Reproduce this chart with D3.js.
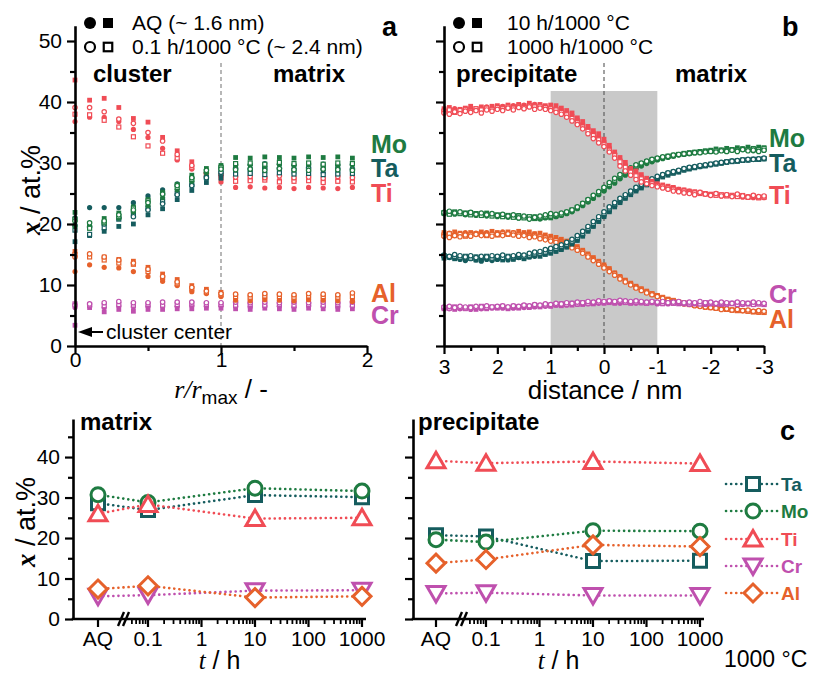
<!DOCTYPE html>
<html><head><meta charset="utf-8">
<script src="https://cdn.jsdelivr.net/npm/d3@7"></script>
<style>
body{margin:0;background:#fff}
svg text{font-family:"Liberation Sans",Arial,sans-serif}
</style></head><body>
<svg id="c" width="814" height="673"></svg>
<script>
// ---------------- DATA ----------------
const elements = ["Ta","Mo","Ti","Cr","Al"];
const colorTa = "#155c5e", colorMo = "#1e7b41", colorTi = "#f04c55", colorCr = "#bf50ae", colorAl = "#e6612b";

// panel a: r/rmax positions
const rA = [0,0.1,0.2,0.3,0.4,0.5,0.6,0.7,0.8,0.9,1.0,1.1,1.2,1.3,1.4,1.5,1.6,1.7,1.8,1.9];
// AQ filled squares
const tiAqS = [43.6,40.3,40.6,39.1,37.3,36.7,34.2,32.0,30.2,28.5,28.0,27.4,27.2,27.5,27.1,27.3,27.4,27.0,27.2,27.3];
const moAqS = [21.9,20.0,20.9,21.8,22.8,24.0,25.2,26.5,28.0,29.1,29.6,30.9,30.8,31.0,30.9,30.8,31.0,30.9,31.0,30.8];
const taAqS = [17.1,18.1,18.8,19.6,20.0,21.5,22.5,24.0,25.5,26.8,27.5,28.6,28.5,28.7,28.6,28.5,28.7,28.6,28.5,28.6];
const alAqS = [15.5,14.8,14.6,14.2,13.9,12.9,11.8,10.9,9.9,9.3,8.8,7.9,7.8,8.0,7.8,7.9,7.7,7.9,7.8,7.7];
const crAqS = [3.4,6.3,5.6,6.0,5.7,6.0,6.0,6.1,6.1,6.2,6.2,6.1,6.0,6.2,6.1,6.0,6.2,6.1,6.0,6.1];
// AQ filled circles
const tiAqC = [36.8,37.5,37.5,36.8,35.5,34.2,32.4,30.5,29.0,27.7,26.9,26.0,26.1,25.9,26.0,25.8,26.0,25.9,25.8,26.0];
const moAqC = [19.6,19.7,20.3,21.0,22.0,23.0,24.3,25.6,27.0,28.4,29.4,29.6,29.7,29.5,29.8,29.6,29.7,29.5,29.6,29.7];
const taAqC = [21.0,22.7,22.7,22.7,23.5,24.6,25.6,26.6,27.5,28.5,29.0,29.8,29.7,29.9,29.8,29.7,29.9,29.8,29.7,29.8];
const alAqC = [12.2,13.3,12.9,12.8,12.2,11.4,10.6,9.9,8.9,8.6,8.1,7.5,7.4,7.6,7.5,7.4,7.6,7.5,7.4,7.3];
const crAqC = [6.3,6.5,6.3,6.6,6.4,6.5,6.6,6.5,6.6,6.5,6.6,6.5,6.4,6.6,6.5,6.4,6.6,6.5,6.4,6.5];
// 0.1 h open circles
const ti01C = [39.1,39.1,38.4,37.2,36.5,35.0,33.6,31.4,29.6,28.3,28.1,27.7,27.8,27.6,27.9,27.6,27.7,27.5,27.8,27.6];
const mo01C = [20.5,20.2,20.5,21.5,22.3,23.5,24.9,26.3,27.6,28.8,29.0,28.9,29.0,28.8,29.1,28.9,28.8,29.0,28.9,28.8];
const ta01C = [19.8,19.5,20.0,21.0,21.2,22.3,23.3,24.8,26.3,27.6,28.5,29.1,29.0,29.2,29.1,29.0,29.2,29.0,29.1,29.0];
const al01C = [14.6,15.1,14.6,14.1,13.6,12.6,11.4,10.5,9.6,9.0,8.6,8.5,8.4,8.6,8.5,8.4,8.6,8.5,8.4,8.7];
const cr01C = [6.7,6.9,7.1,7.3,7.1,7.1,7.2,7.2,7.2,7.1,7.1,7.2,7.1,7.2,7.1,7.2,7.1,7.2,7.1,7.2];
// 0.1 h open squares
const ti01S = [38.0,37.9,37.0,35.9,34.3,32.8,31.6,30.8,29.3,28.1,27.6,27.0,27.1,27.2,26.9,27.0,27.1,26.8,27.0,26.9];
const mo01S = [20.8,19.3,20.2,21.2,22.6,23.8,25.0,26.0,27.3,28.6,29.3,29.9,30.0,29.8,30.1,29.9,30.0,29.8,30.0,29.9];
const ta01S = [19.0,18.3,19.4,20.8,21.7,22.6,23.7,25.0,26.4,27.6,28.3,28.2,28.3,28.1,28.4,28.2,28.3,28.1,28.2,28.3];
const al01S = [15.0,14.6,14.1,13.6,13.4,12.2,11.2,10.2,9.4,8.8,8.4,8.1,8.0,8.2,8.1,8.0,8.2,8.1,8.0,8.1];
const cr01S = [6.9,6.7,6.6,6.8,6.7,6.8,6.7,6.8,6.9,6.8,6.8,6.7,6.8,6.7,6.8,6.7,6.8,6.7,6.8,6.7];

// panel b: distance positions (nm)
const distB = [3,2.9,2.8,2.7,2.6,2.5,2.4,2.3,2.2,2.1,2,1.9,1.8,1.7,1.6,1.5,1.4,1.3,1.2,1.1,1,0.9,0.8,0.7,0.6,0.5,0.4,0.3,0.2,0.1,0,-0.1,-0.2,-0.3,-0.4,-0.5,-0.6,-0.7,-0.8,-0.9,-1,-1.1,-1.2,-1.3,-1.4,-1.5,-1.6,-1.7,-1.8,-1.9,-2,-2.1,-2.2,-2.3,-2.4,-2.5,-2.6,-2.7,-2.8,-2.9,-3];
// 10 h filled squares
const ti10S = [38.9,39.1,38.6,38.8,39.0,39.3,38.9,39.2,39.0,39.3, 39.4,39.2,39.5,39.3,39.6,39.4,39.8,39.5,39.6,39.4, 39.5,39.4,39.0,38.6,38.2,37.4,36.8,36.0,35.3,34.8, 33.9,32.9,31.8,30.9,30.1,29.1,28.7,28.1,27.5,27.0, 26.6,26.4,26.2,26.0,25.7,25.6,25.4,25.3,25.2,25.0, 24.9,25.0,24.7,24.8,24.6,24.5,24.7,24.4,24.6,24.3,24.4];
const mo10S = [21.9,21.7,22.0,21.8,21.6,21.9,21.7,21.5,21.8,21.6, 21.4,21.5,21.3,21.2,21.4,21.1,21.0,21.2,20.9,21.1, 21.0,21.3,21.5,21.8,22.2,22.7,23.2,23.7,24.4,25.0, 25.6,26.3,27.0,27.6,28.3,28.8,29.3,29.7,30.1,30.4, 30.7,30.9,31.1,31.3,31.4,31.6,31.7,31.8,31.9,32.0, 32.1,32.3,32.1,32.4,32.2,32.5,32.3,32.6,32.4,32.6,32.5];
const ta10S = [14.4,14.6,14.3,14.5,14.2,14.4,14.1,14.3,14.5,14.2, 14.3,14.1,14.4,14.2,14.5,14.3,14.6,14.8,14.7,15.0, 15.2,15.5,15.8,16.2,16.7,17.3,18.0,18.8,19.6,20.4, 21.2,22.0,22.8,23.5,24.2,24.8,25.4,25.9,26.4,26.9, 27.3,27.7,28.0,28.3,28.5,28.8,29.0,29.2,29.4,29.5, 29.7,29.8,30.0,30.1,30.2,30.3,30.4,30.5,30.6,30.6,30.7];
const al10S = [18.6,18.4,18.7,18.5,18.3,18.6,18.4,18.7,18.5,18.8, 18.6,18.4,18.7,18.5,18.8,18.6,18.7,18.4,18.5,18.2, 18.0,17.8,17.5,17.2,16.8,16.3,15.7,15.1,14.5,13.9, 13.3,12.7,12.0,11.4,10.8,10.3,9.8,9.4,9.0,8.6, 8.3,8.0,7.7,7.5,7.2,7.1,6.9,6.7,6.6,6.4, 6.3,6.2,6.1,6.0,5.9,5.8,5.8,5.7,5.6,5.5,5.5];
const cr10S = [6.1,6.3,6.0,6.2,6.1,6.3,6.0,6.2,6.1,6.3, 6.2,6.4,6.1,6.3,6.2,6.4,6.3,6.5,6.4,6.6, 6.5,6.7,6.6,6.8,6.7,6.9,6.8,7.0,6.9,7.1, 7.0,7.1,7.0,7.2,7.1,7.0,7.2,7.1,7.0,7.1, 7.0,6.9,7.1,7.0,6.9,7.0,6.8,7.0,6.9,6.8, 7.0,6.9,6.8,7.0,6.9,6.8,7.0,6.9,6.8,6.9,6.8];
// 10 h filled circles
const ti10C = [38.6,38.8,38.9,38.5,38.9,39.0,38.7,39.0,39.2,38.9, 39.1,39.3,39.0,39.4,39.2,39.5,39.3,39.6,39.3,39.2, 39.1,38.9,38.7,38.3,37.8,37.1,36.4,35.7,35.0,34.3, 33.5,32.5,31.6,30.5,29.7,28.9,28.3,27.8,27.3,26.9, 26.5,26.3,26.0,25.9,25.7,25.5,25.4,25.2,25.1,25.0, 24.8,24.9,24.6,24.7,24.5,24.6,24.4,24.5,24.3,24.5,24.3];
const mo10C = [21.7,21.9,21.6,21.8,21.5,21.7,21.4,21.6,21.3,21.5, 21.2,21.4,21.1,21.3,21.0,21.2,20.9,21.1,20.8,21.0, 21.1,21.2,21.4,21.7,22.0,22.5,23.0,23.6,24.2,24.8, 25.4,26.1,26.7,27.4,28.0,28.6,29.1,29.5,29.9,30.2, 30.5,30.7,30.9,31.1,31.3,31.4,31.5,31.7,31.8,31.9, 32.0,31.9,32.1,32.0,32.2,32.1,32.3,32.2,32.0,32.3,32.1];
const ta10C = [14.7,14.5,14.4,14.2,14.0,14.3,14.1,13.9,14.2,14.0, 14.2,14.4,14.1,14.3,14.5,14.4,14.6,14.7,14.9,15.1, 15.3,15.6,15.9,16.3,16.8,17.4,18.1,18.9,19.7,20.5, 21.3,22.1,22.9,23.6,24.3,24.9,25.5,26.0,26.5,27.0, 27.4,27.8,28.1,28.4,28.6,28.9,29.1,29.3,29.4,29.6, 29.7,29.9,30.0,30.2,30.3,30.4,30.5,30.5,30.6,30.7,30.7];
const al10C = [18.3,18.5,18.2,18.4,18.6,18.3,18.5,18.2,18.6,18.4, 18.5,18.7,18.4,18.6,18.3,18.5,18.2,18.4,18.1,17.9, 17.7,17.5,17.2,16.9,16.5,16.0,15.5,14.9,14.3,13.7, 13.1,12.5,11.9,11.3,10.7,10.2,9.7,9.3,8.9,8.5, 8.2,7.9,7.6,7.4,7.2,7.0,6.8,6.7,6.5,6.4, 6.3,6.2,6.1,6.0,5.9,5.9,5.8,5.7,5.7,5.6,5.6];
const cr10C = [6.2,6.1,6.3,6.1,6.2,6.0,6.2,6.1,6.3,6.2, 6.3,6.2,6.4,6.2,6.4,6.3,6.5,6.4,6.6,6.5, 6.6,6.7,6.8,6.7,6.9,6.8,7.0,6.9,7.1,7.0, 7.1,7.2,7.1,7.0,7.2,7.1,7.0,7.1,7.0,7.1, 6.9,7.0,6.9,7.1,7.0,6.9,7.0,6.9,7.0,6.8, 6.9,7.0,6.9,6.8,7.0,6.9,6.8,6.9,6.8,7.0,6.9];
// 1000 h open circles
const ti1000C = [38.2,38.0,38.4,38.1,38.5,38.3,38.6,38.2,38.7,38.5, 38.8,38.6,39.0,38.7,39.1,38.9,39.2,38.8,39.0,38.8, 38.6,38.3,38.0,37.5,36.9,36.3,35.6,34.8,34.0,33.3, 32.7,31.8,30.8,29.5,28.7,28.0,27.3,26.9,26.6,26.3, 26.1,25.9,25.7,25.4,25.3,25.1,25.0,24.8,25.2,24.9, 24.7,25.0,24.6,24.8,24.5,24.9,24.6,24.4,24.7,24.5,24.6];
const mo1000C = [21.9,22.1,21.8,22.0,21.7,21.9,21.6,21.8,21.5,21.7, 21.4,21.6,21.3,21.5,21.0,21.3,20.8,21.1,21.3,21.5, 21.7,21.6,21.8,22.0,22.3,22.8,23.4,24.0,24.7,25.3, 26.0,26.8,27.5,28.1,28.7,29.2,29.7,30.0,30.3,30.6, 30.8,31.0,31.1,31.3,31.4,31.5,31.6,31.7,31.7,31.8, 31.9,31.8,32.0,31.9,32.1,31.9,32.2,32.0,32.1,31.9,32.1];
const ta1000C = [14.9,14.7,15.0,14.8,14.6,14.8,14.5,14.7,14.6,14.8, 14.7,14.9,14.6,14.8,15.0,14.9,15.2,15.4,15.5,15.8, 16.0,16.3,16.6,17.0,17.5,18.1,18.8,19.6,20.4,21.2, 22.0,22.8,23.5,24.2,24.8,25.4,26.0,26.5,27.0,27.4, 27.8,28.1,28.4,28.6,28.8,29.1,29.3,29.4,29.6,29.7, 29.8,30.0,30.1,30.2,30.3,30.4,30.5,30.6,30.6,30.7,30.8];
const al1000C = [18.0,17.8,18.1,17.9,18.2,18.0,18.3,18.1,18.2,18.0, 18.3,18.1,18.4,18.2,18.0,18.1,17.8,17.9,17.6,17.4, 17.2,17.0,16.8,16.5,16.1,15.7,15.2,14.6,14.0,13.4, 12.8,12.2,11.6,11.0,10.5,10.0,9.5,9.1,8.7,8.4, 8.1,7.8,7.5,7.3,7.1,6.9,6.8,6.6,6.5,6.4, 6.3,6.2,6.0,6.1,5.9,6.0,5.8,5.9,5.7,5.8,5.7];
const cr1000C = [6.4,6.5,6.3,6.5,6.4,6.3,6.5,6.4,6.6,6.4, 6.5,6.6,6.4,6.6,6.5,6.7,6.6,6.8,6.7,6.9, 6.8,7.0,6.9,7.1,7.0,7.2,7.1,7.3,7.2,7.4, 7.3,7.4,7.3,7.5,7.4,7.3,7.4,7.3,7.2,7.3, 7.2,7.3,7.1,7.2,7.3,7.1,7.2,7.1,7.3,7.1, 7.2,7.0,7.2,7.1,7.0,7.2,7.1,7.0,7.2,7.1,7.0];
// 1000 h open squares
const ti1000S = [38.5,38.7,38.3,38.6,38.8,38.5,38.9,38.7,39.0,38.8, 39.1,38.9,39.2,39.0,39.3,39.1,39.4,39.2,39.3,39.1, 38.9,38.7,38.3,37.9,37.3,36.6,35.9,35.2,34.5,33.8, 33.0,32.1,31.2,30.2,29.3,28.5,27.9,27.4,27.0,26.6, 26.3,26.1,25.9,25.7,25.5,25.4,25.2,25.1,25.0,24.9, 24.8,24.7,24.8,24.6,24.7,24.5,24.6,24.4,24.5,24.3,24.4];
const mo1000S = [21.8,21.6,21.9,21.7,21.8,21.5,21.7,21.4,21.6,21.3, 21.5,21.2,21.4,21.1,21.3,21.0,21.2,20.9,21.1,21.2, 21.3,21.4,21.6,21.9,22.3,22.7,23.3,23.9,24.5,25.1, 25.8,26.5,27.2,27.9,28.5,29.0,29.5,29.9,30.2,30.5, 30.7,30.9,31.1,31.2,31.4,31.5,31.6,31.7,31.8,31.9, 31.9,32.0,32.1,32.0,32.2,32.1,32.3,32.2,32.3,32.2,32.4];
const ta1000S = [14.8,14.6,14.7,14.5,14.7,14.4,14.6,14.5,14.7,14.4, 14.6,14.5,14.7,14.6,14.8,14.7,14.9,15.1,15.2,15.4, 15.7,16.0,16.3,16.7,17.2,17.8,18.5,19.3,20.1,20.9, 21.7,22.5,23.3,24.0,24.6,25.2,25.8,26.3,26.8,27.2, 27.6,28.0,28.3,28.5,28.7,29.0,29.2,29.3,29.5,29.6, 29.8,29.9,30.0,30.2,30.3,30.3,30.5,30.5,30.6,30.6,30.7];
const al1000S = [18.2,18.4,18.1,18.3,18.0,18.2,18.4,18.3,18.1,18.3, 18.2,18.4,18.3,18.5,18.2,18.3,18.0,18.1,17.9,17.7, 17.5,17.3,17.0,16.7,16.3,15.9,15.4,14.8,14.2,13.6, 13.0,12.4,11.8,11.2,10.6,10.1,9.6,9.2,8.8,8.5, 8.2,7.9,7.6,7.4,7.2,7.0,6.8,6.7,6.6,6.4, 6.3,6.2,6.1,6.0,5.9,5.8,5.8,5.7,5.6,5.6,5.5];
const cr1000S = [6.3,6.2,6.4,6.3,6.2,6.4,6.3,6.5,6.3,6.4, 6.4,6.5,6.3,6.5,6.4,6.6,6.5,6.7,6.6,6.7, 6.7,6.8,6.9,6.8,7.0,6.9,7.1,7.0,7.1,7.2, 7.2,7.3,7.2,7.3,7.2,7.1,7.2,7.1,7.0,7.2, 7.1,7.0,7.1,7.0,7.1,7.0,6.9,7.0,6.9,7.1, 7.0,6.9,7.0,6.9,7.0,6.8,6.9,7.0,6.8,6.9,6.8];

// panel c
const tTickLabels = ["AQ","0.1","1","10","100","1000"];
const tData = ["AQ",0.1,10,1000];
const matrixTa = [28.6,26.9,30.6,30.1];
const matrixMo = [30.7,28.8,32.3,31.6];
const matrixTi = [26.0,28.3,24.8,25.0];
const matrixCr = [5.6,5.9,7.0,7.1];
const matrixAl = [7.4,8.2,5.3,5.6];
const precTa = [20.7,20.4,14.3,14.4];
const precMo = [19.6,19.0,21.8,21.7];
const precTi = [39.1,38.5,38.9,38.4];
const precCr = [6.3,6.5,5.8,5.8];
const precAl = [13.8,14.7,18.3,17.9];

// ---------------- DRAWING ----------------
const svg = d3.select("#c");
const SERIF = '"Liberation Serif","Times New Roman",serif';
const colorOf = {Ta:colorTa, Mo:colorMo, Ti:colorTi, Cr:colorCr, Al:colorAl};

const yA = d3.scaleLinear().domain([0,52.5]).range([346,25.75]);
const xA = d3.scaleLinear().domain([0,2]).range([75,367]);
const xB = d3.scaleLinear().domain([3,-3]).range([444,764]);
const yC = d3.scaleLinear().domain([0,49.4]).range([619,419]);

function styleAxis(g, fs){
  g.select(".domain").attr("stroke","#000").attr("stroke-width",2.6);
  g.selectAll(".tick line").attr("stroke","#000").attr("stroke-width",2.2);
  g.selectAll(".tick text").attr("font-size",fs).attr("font-family",'"Liberation Sans",Arial,sans-serif').attr("fill","#000");
}
function leftAxis(x, scale, major, minor, labels){
  const gm = svg.append("g").attr("transform",`translate(${x},0)`)
    .call(d3.axisLeft(scale).tickValues(minor).tickSize(5).tickFormat("").tickSizeOuter(0));
  gm.select(".domain").remove();
  gm.selectAll(".tick line").attr("stroke","#000").attr("stroke-width",2.2);
  const g = svg.append("g").attr("transform",`translate(${x},0)`)
    .call(d3.axisLeft(scale).tickValues(major).tickSize(8).tickPadding(5).tickSizeOuter(0)
      .tickFormat(labels ? d3.format("d") : ""));
  styleAxis(g, 21);
}
function bottomAxis(y, scale, major, minor, fmt, labelY){
  const gm = svg.append("g").attr("transform",`translate(0,${y})`)
    .call(d3.axisBottom(scale).tickValues(minor).tickSize(5).tickFormat("").tickSizeOuter(0));
  gm.select(".domain").remove();
  gm.selectAll(".tick line").attr("stroke","#000").attr("stroke-width",2.2);
  const g = svg.append("g").attr("transform",`translate(0,${y})`)
    .call(d3.axisBottom(scale).tickValues(major).tickSize(8).tickSizeOuter(0).tickFormat(fmt));
  styleAxis(g, 21);
  g.selectAll(".tick text").attr("dy",null).attr("y",labelY);
}

// ---- panel b background band & dashed lines
svg.append("rect").attr("x",xB(1)).attr("y",91).attr("width",xB(-1)-xB(1)).attr("height",yA(0)-91).attr("fill","#c9c9c9");
svg.append("line").attr("x1",xB(0)).attr("x2",xB(0)).attr("y1",63).attr("y2",yA(0))
  .attr("stroke","#555").attr("stroke-width",1.1).attr("stroke-dasharray","4,3");
svg.append("line").attr("x1",xA(1)).attr("x2",xA(1)).attr("y1",63).attr("y2",yA(0))
  .attr("stroke","#999").attr("stroke-width",1.4).attr("stroke-dasharray","4,3");

// ---- markers for a & b
function drawSmall(xs, ys, xScale, el, shape, filled){
  const col = colorOf[el];
  const pts = xs.map((x,i)=>({x:x, y:ys[i]}));
  const g = svg.append("g");
  if(shape==="c"){
    g.selectAll("circle").data(pts).join("circle")
      .attr("cx",d=>xScale(d.x)).attr("cy",d=>yA(d.y))
      .attr("r", filled?2.6:2.2)
      .attr("fill", filled?col:"#fff").attr("stroke",col).attr("stroke-width",filled?0:1.2);
  } else {
    const s = filled?4.8:4.0;
    g.selectAll("rect").data(pts).join("rect")
      .attr("x",d=>xScale(d.x)-s/2).attr("y",d=>yA(d.y)-s/2).attr("width",s).attr("height",s)
      .attr("fill", filled?col:"#fff").attr("stroke",col).attr("stroke-width",filled?0:1.2);
  }
}
// panel a
const seriesA = [
  ["Cr",crAqS,crAqC,cr01S,cr01C],["Al",alAqS,alAqC,al01S,al01C],
  ["Ti",tiAqS,tiAqC,ti01S,ti01C],["Ta",taAqS,taAqC,ta01S,ta01C],["Mo",moAqS,moAqC,mo01S,mo01C]];
seriesA.forEach(s=>{
  drawSmall(rA,s[1],xA,s[0],"s",true);
  drawSmall(rA,s[2],xA,s[0],"c",true);
  drawSmall(rA,s[3],xA,s[0],"s",false);
  drawSmall(rA,s[4],xA,s[0],"c",false);
});
// panel b
const seriesB = [
  ["Al",al10S,al10C,al1000S,al1000C],["Cr",cr10S,cr10C,cr1000S,cr1000C],
  ["Ta",ta10S,ta10C,ta1000S,ta1000C],["Mo",mo10S,mo10C,mo1000S,mo1000C],["Ti",ti10S,ti10C,ti1000S,ti1000C]];
seriesB.forEach(s=>{
  drawSmall(distB,s[2],xB,s[0],"c",true);
  drawSmall(distB,s[1],xB,s[0],"s",true);
  drawSmall(distB,s[3],xB,s[0],"s",false);
  drawSmall(distB,s[4],xB,s[0],"c",false);
});

// ---- axes a & b
leftAxis(75, yA, [0,10,20,30,40,50], [5,15,25,35,45], true);
bottomAxis(346, xA, [0,1,2], [0.5,1.5], d3.format("d"), 21);
leftAxis(444, yA, [0,10,20,30,40,50], [5,15,25,35,45], false);
bottomAxis(346, xB, [3,2,1,0,-1,-2,-3], [2.5,1.5,0.5,-0.5,-1.5,-2.5], d=>d<0?"-"+Math.abs(d):String(d), 28);

// ---- texts a & b
function txt(x,y,s,opt={}){
  const t = svg.append("text").attr("x",x).attr("y",y).text(s)
    .attr("font-size",opt.fs||21).attr("font-weight",opt.fw||"normal")
    .style("fill", opt.fill||"#000");
  if(opt.anchor) t.attr("text-anchor",opt.anchor);
  return t;
}
txt(93,82,"cluster",{fs:24,fw:"bold"});
txt(273,82,"matrix",{fs:24,fw:"bold"});
txt(456,82,"precipitate",{fs:24,fw:"bold"});
txt(675,82,"matrix",{fs:24,fw:"bold"});
txt(382,36,"a",{fs:27,fw:"bold"});
txt(782,36,"b",{fs:27,fw:"bold"});

// legends a & b
function legendMarkers(cx, cy, filled){
  const col="#000";
  svg.append("circle").attr("cx",cx).attr("cy",cy).attr("r",filled?6:5)
    .attr("fill",filled?col:"#fff").attr("stroke",col).attr("stroke-width",filled?0:2.2);
  const s = filled?10:8.5;
  svg.append("rect").attr("x",cx+18-s/2).attr("y",cy-s/2).attr("width",s).attr("height",s)
    .attr("fill",filled?col:"#fff").attr("stroke",col).attr("stroke-width",filled?0:2.2);
}
legendMarkers(90,23,true); legendMarkers(90,47,false);
txt(132,30,"AQ (~ 1.6 nm)"); txt(132,54,"0.1 h/1000 °C (~ 2.4 nm)");
legendMarkers(459,23,true); legendMarkers(459,47,false);
txt(507,30,"10 h/1000 °C"); txt(507,54,"1000 h/1000 °C");

// element labels
const labA = [["Mo",153],["Ta",177],["Ti",202],["Al",302],["Cr",324]];
labA.forEach(d=>txt(371,d[1],d[0],{fs:25,fw:"bold",fill:colorOf[d[0]]}));
const labB = [["Mo",147],["Ta",172],["Ti",204],["Cr",303],["Al",328]];
labB.forEach(d=>txt(769,d[1],d[0],{fs:25,fw:"bold",fill:colorOf[d[0]]}));

// cluster center arrow
svg.append("line").attr("x1",88).attr("x2",103).attr("y1",332).attr("y2",332).attr("stroke","#000").attr("stroke-width",2);
svg.append("path").attr("d","M78,332 L92,327 L92,337 Z").attr("fill","#000");
txt(106,339,"cluster center",{fs:21});

// y axis labels
function yLabel(cx, cy){
  const t = svg.append("text").attr("transform",`translate(${cx},${cy}) rotate(-90)`)
    .attr("text-anchor","middle").attr("font-size",27).style("fill","#000");
  t.append("tspan").text("x").attr("font-family",SERIF).attr("font-style","italic").attr("font-weight","bold");
  t.append("tspan").text(" / at.%");
}
yLabel(40,190);
yLabel(35,522);

// x labels
const xl = svg.append("text").attr("x",221).attr("y",398).attr("text-anchor","middle").attr("font-size",26).style("fill","#000");
xl.append("tspan").text("r/r").attr("font-family",SERIF).attr("font-style","italic");
xl.append("tspan").text("max").attr("font-size",19).attr("dy",6);
xl.append("tspan").text(" / -").attr("dy",-6);
txt(605,399,"distance / nm",{fs:26,anchor:"middle"});

// ---------------- panel c ----------------
function panelC(axX, logLeft, logRight, axEnd, title, titleX, data, showYLabels){
  const xl = d3.scaleLog().domain([0.1,1000]).range([logLeft,logRight]);
  const xAQ = logLeft - 50;
  const pos = t => t==="AQ" ? xAQ : xl(t);
  leftAxis(axX, yC, [0,10,20,30,40], [5,15,25,35,45], showYLabels);
  svg.append("line").attr("x1",axX-1.3).attr("x2",axEnd).attr("y1",619).attr("y2",619)
    .attr("stroke","#000").attr("stroke-width",2.6);
  const minors = [0.05,0.06,0.07,0.08,0.09,0.2,0.3,0.4,0.5,0.6,0.7,0.8,0.9,2,3,4,5,6,7,8,9,20,30,40,50,60,70,80,90,200,300,400,500,600,700,800,900];
  svg.append("g").selectAll("line").data(minors).join("line")
    .attr("x1",d=>xl(d)).attr("x2",d=>xl(d)).attr("y1",619).attr("y2",624)
    .attr("stroke","#000").attr("stroke-width",1.8);
  const majors = ["AQ",0.1,1,10,100,1000];
  const gM = svg.append("g");
  gM.selectAll("line").data(majors).join("line")
    .attr("x1",d=>pos(d)).attr("x2",d=>pos(d)).attr("y1",619).attr("y2",627)
    .attr("stroke","#000").attr("stroke-width",2.2);
  gM.selectAll("text").data(majors).join("text")
    .attr("x",d=>pos(d)).attr("y",646).attr("text-anchor","middle").attr("font-size",21)
    .style("fill","#000")
    .text((d,i)=>tTickLabels[i]);
  const bx = (xAQ + xl(0.1))/2 - 2;
  [0,5].forEach(o=>{
    svg.append("line").attr("x1",bx+o-3).attr("y1",626).attr("x2",bx+o+3).attr("y2",612)
      .attr("stroke","#000").attr("stroke-width",2.4);
  });
  txt(titleX,430,title,{fs:24,fw:"bold"});
  const tl = svg.append("text").attr("x",(axX+axEnd)/2).attr("y",669).attr("text-anchor","middle").attr("font-size",25).style("fill","#000");
  tl.append("tspan").text("t").attr("font-family",SERIF).attr("font-style","italic");
  tl.append("tspan").text(" / h");
  data.forEach(([el, vals])=>{
    const col = colorOf[el];
    const pts = tData.map((t,i)=>({t:t, v:vals[i]}));
    svg.append("path").datum(pts)
      .attr("d", d3.line().x(d=>pos(d.t)).y(d=>yC(d.v)))
      .attr("fill","none").attr("stroke",col).attr("stroke-width",2.6)
      .attr("stroke-linecap","round").attr("stroke-dasharray","0.1,5");
    svg.append("g").selectAll("path").data(pts).join("path")
      .attr("transform",d=>`translate(${pos(d.t)},${yC(d.v)})`)
      .attr("d", markerPath(el))
      .attr("fill","#fff").attr("stroke",col).attr("stroke-width",3);
  });
}
function markerPath(el){
  if(el==="Ta") return "M-6.5,-6.5H6.5V6.5H-6.5Z";
  if(el==="Mo") return "M7,0A7,7 0 1,1 -7,0A7,7 0 1,1 7,0Z";
  if(el==="Ti") return "M0,-8.5L9,7L-9,7Z";
  if(el==="Cr") return "M0,8.5L9,-7L-9,-7Z";
  return "M0,-9L9,0L0,9L-9,0Z";
}
panelC(73, 148, 362, 366, "matrix", 80,
  [["Ta",matrixTa],["Mo",matrixMo],["Ti",matrixTi],["Cr",matrixCr],["Al",matrixAl]], true);
panelC(413, 486, 700, 704, "precipitate", 418,
  [["Ta",precTa],["Mo",precMo],["Ti",precTi],["Cr",precCr],["Al",precAl]], false);

// legend c
const legY = [484,511,539,566,593];
elements.forEach((el,i)=>{
  const col = colorOf[el];
  svg.append("line").attr("x1",726).attr("x2",778).attr("y1",legY[i]).attr("y2",legY[i])
    .attr("stroke",col).attr("stroke-width",2.6).attr("stroke-linecap","round").attr("stroke-dasharray","0.1,5");
  svg.append("path").attr("transform",`translate(753,${legY[i]})`).attr("d",markerPath(el))
    .attr("fill","#fff").attr("stroke",col).attr("stroke-width",3);
  txt(781,legY[i]+7,el,{fs:19,fw:"bold",fill:col});
});
txt(780,440,"c",{fs:27,fw:"bold"});
txt(724,667,"1000 °C",{fs:23});
</script>
</body></html>
